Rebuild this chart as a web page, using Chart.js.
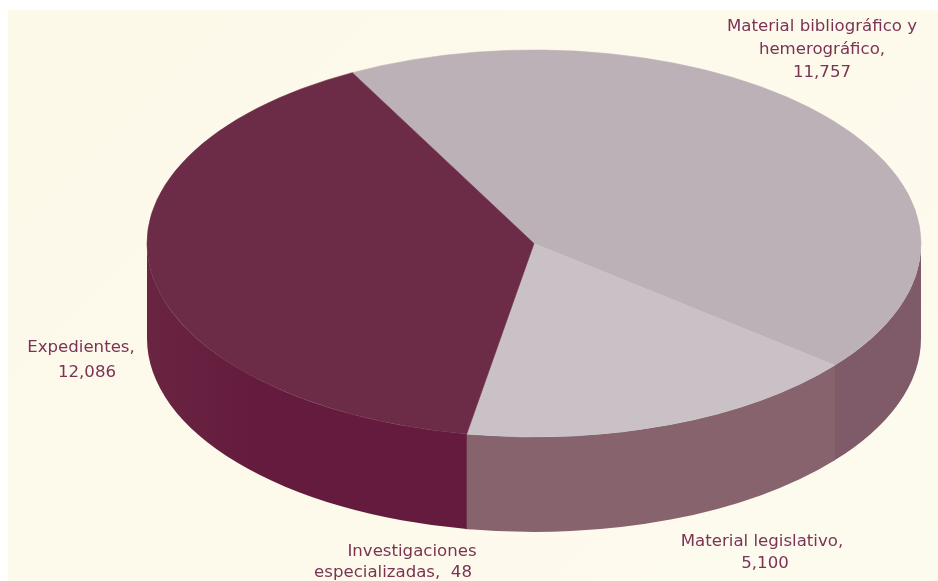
<!DOCTYPE html>
<html>
<head>
<meta charset="utf-8">
<title>Acervo</title>
<script src="https://cdn.jsdelivr.net/npm/chart.js"></script>
<style>
  html, body { margin: 0; padding: 0; background: #fff; overflow: hidden; }
  #paper { position: absolute; left: 8px; top: 10px; right: 0; bottom: 0; background: linear-gradient(135deg, #fdf9e9, #fdfbef); }
  #wrap { position: absolute; left: 0; top: 0; width: 938px; height: 581px; }
</style>
</head>
<body>
<div id="paper"></div>
<div id="wrap"><canvas id="pie"></canvas></div>
<script>
// data, same order as the slices run clockwise
const categories = ['Material bibliográfico y hemerográfico', 'Material legislativo', 'Investigaciones especializadas', 'Expedientes'];
const values = [11757, 5100, 48, 12086];
const labelLines = [
  ['Material bibliográfico y', 'hemerográfico,', '11,757'],
  ['Material legislativo,', '5,100'],
  ['Investigaciones', 'especializadas,  48'],
  ['Expedientes,', '12,086']
];

// colours
const topColors = ['#bcb1b6', '#c9c1c5', '#c9c1c5', '#6c2b46'];
const wallColors = ['#7f5a68', '#86636d', '#86636d', '#641b3d'];

// where the flat ellipse goes on the page
const cx = 534, cy = 243.5, rx = 387, ry = 193.5, depth = 95;
const startDeg = -22.88;

// label anchors: centre x, centre y of first line, line height
const labelPos = [[822, 27, 23], [762, 542, 22], [412, 552, 21], [81, 348, 25]];

// the tilted pie is not an exact flat projection, slices on the far side look wider
function perspective(a) {
  const t = a + Math.PI / 2 - startDeg * Math.PI / 180;
  return a + (-5.12 * Math.cos(t) + 2.93 * Math.sin(t)) * Math.PI / 180;
}

const pie3d = {
  id: 'pie3d',
  afterDatasetsUpdate(chart) {
    chart.getDatasetMeta(0).data.forEach((arc) => {
      const s = perspective(arc.startAngle);
      const e = perspective(arc.endAngle);
      arc.startAngle = s;
      arc.endAngle = e;
      arc.circumference = e - s;
    });
  },
  beforeDatasetsDraw(chart) {
    const ctx = chart.ctx;
    const arcs = chart.getDatasetMeta(0).data;
    // walls first, only the part facing the viewer
    arcs.forEach((arc, i) => {
      let a1 = arc.startAngle, a2 = arc.endAngle;
      while (a2 < 0) { a1 += Math.PI * 2; a2 += Math.PI * 2; }
      // small overlap so no seam shows between two walls
      const from = Math.max(a1, 0), to = Math.min(a2 + 0.004, Math.PI);
      if (to <= from) return;
      ctx.save();
      ctx.beginPath();
      ctx.ellipse(cx, cy, rx, ry, 0, from, to);
      ctx.ellipse(cx, cy + depth, rx, ry, 0, to, from, true);
      ctx.closePath();
      ctx.fillStyle = wallColors[i];
      if (i === 3) {
        // left edge of the dark wall fades into the top colour
        const g = ctx.createLinearGradient(cx - rx, 0, cx - rx + 110, 0);
        g.addColorStop(0, '#6a2542');
        g.addColorStop(1, wallColors[i]);
        ctx.fillStyle = g;
      }
      ctx.fill();
      ctx.restore();
    });
    // top face, library draws the arcs into a squashed space
    const r = arcs[0].outerRadius;
    ctx.save();
    ctx.translate(cx, cy);
    ctx.scale(rx / r, ry / r);
    ctx.translate(-arcs[0].x, -arcs[0].y);
  },
  afterDatasetsDraw(chart) {
    const ctx = chart.ctx;
    ctx.restore();
    ctx.save();
    ctx.font = '16.6px "DejaVu Sans"';
    ctx.fillStyle = '#7b3355';
    ctx.textAlign = 'center';
    ctx.textBaseline = 'middle';
    labelLines.forEach((lines, i) => {
      const [x, y, lh] = labelPos[i];
      lines.forEach((txt, j) => {
        // second lines that are not centred under the first one
        let dx = 0;
        if (j === 1 && i === 3) dx = 6;
        if (j === 1 && i === 2) dx = -19;
        if (j === 1 && i === 1) dx = 3;
        ctx.fillText(txt, x + dx, y + j * lh);
      });
    });
    ctx.restore();
  }
};

new Chart(document.getElementById('pie'), {
  type: 'pie',
  data: {
    labels: categories,
    datasets: [{
      data: values,
      backgroundColor: topColors,
      borderColor: topColors,
      borderWidth: 0.6
    }]
  },
  options: {
    responsive: true,
    maintainAspectRatio: false,
    animation: false,
    rotation: startDeg,
    plugins: { legend: { display: false }, tooltip: { enabled: false } }
  },
  plugins: [pie3d]
});
</script>
</body>
</html>
